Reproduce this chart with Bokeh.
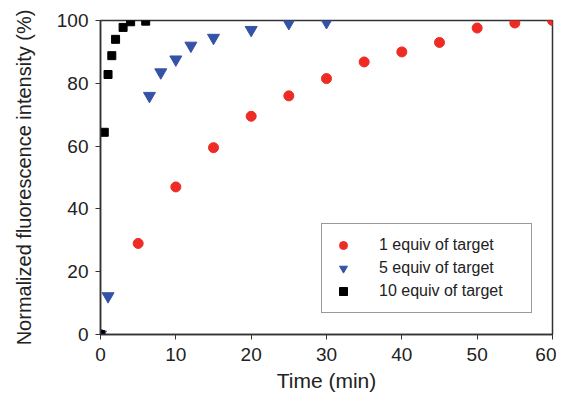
from bokeh.plotting import figure
from bokeh.models import Range1d, FixedTicker, Legend, LegendItem
from bokeh.embed import file_html
from bokeh.resources import INLINE

# Data
x1 = [0, 5, 10, 15, 20, 25, 30, 35, 40, 45, 50, 55, 60]
y1 = [0, 29, 47, 59.5, 69.5, 76, 81.5, 86.8, 90, 93, 97.6, 99.2, 100]

x5 = [0, 1, 6.5, 8, 10, 12, 15, 20, 25, 30]
y5 = [0, 12.2, 76, 83.5, 87.6, 92, 94.5, 97, 99.2, 99.5]

x10 = [0, 0.5, 1, 1.5, 2, 3, 4, 6]
y10 = [0, 64.4, 82.8, 88.8, 94, 97.8, 99.6, 99.8]

labels = ["1 equiv of target", "5 equiv of target", "10 equiv of target"]
x_ticks = [0, 10, 20, 30, 40, 50, 60]
y_ticks = [0, 20, 40, 60, 80, 100]

FONT = "Liberation Sans"

p = figure(width=556, height=398, output_backend="svg", toolbar_location=None,
           x_range=Range1d(0, 60), y_range=Range1d(0, 100),
           min_border_left=100, min_border_right=4, min_border_top=20, min_border_bottom=64)
p.background_fill_color = "white"
p.border_fill_color = "white"
p.outline_line_color = "#333333"
p.outline_line_width = 1.5
p.xgrid.visible = False
p.ygrid.visible = False

for ax in (p.xaxis[0], p.yaxis[0]):
    ax.axis_line_color = "#333333"
    ax.axis_line_width = 1.5
    ax.major_tick_line_color = "#333333"
    ax.major_tick_out = 5
    ax.major_tick_in = 0
    ax.minor_tick_line_color = None
    ax.major_label_text_font = FONT
    ax.major_label_text_font_size = "19px"
    ax.major_label_text_color = "#222222"
    ax.axis_label_text_font = FONT
    ax.axis_label_text_font_style = "normal"
    ax.axis_label_text_color = "#222222"

p.xaxis.axis_label_text_font_size = "21px"
p.yaxis.axis_label_text_font_size = "20px"
p.xaxis.ticker = FixedTicker(ticks=x_ticks)
p.yaxis.ticker = FixedTicker(ticks=y_ticks)
p.xaxis.axis_label = "Time (min)"
p.yaxis.axis_label = "Normalized fluorescence intensity (%)"
p.xaxis.major_label_standoff = 8
p.yaxis.major_label_standoff = 7
p.xaxis.axis_label_standoff = 5
p.yaxis.axis_label_standoff = 19

r1 = p.scatter(x1, y1, marker="circle", size=10, fill_color="#ee2b24", line_color="#ee2b24")
r5 = p.scatter(x5, y5, marker="inverted_triangle", size=12, fill_color="#3553a6", line_color="#3553a6")
r10 = p.scatter(x10, y10, marker="square", size=8, fill_color="black", line_color="black")

legend = Legend(items=[LegendItem(label=labels[0], renderers=[r1]),
                       LegendItem(label=labels[1], renderers=[r5]),
                       LegendItem(label=labels[2], renderers=[r10])],
                location=(221, 21))
legend.label_text_font = FONT
legend.label_text_font_size = "16px"
legend.label_text_color = "#222222"
legend.border_line_color = "#333333"
legend.border_line_width = 1.2
legend.padding = 11
legend.spacing = 3
legend.glyph_width = 20
legend.glyph_height = 20
legend.label_height = 20
legend.label_width = 141
legend.label_standoff = 26
legend.margin = 0
p.add_layout(legend, "center")

open("out.html", "w").write(file_html(p, INLINE))
